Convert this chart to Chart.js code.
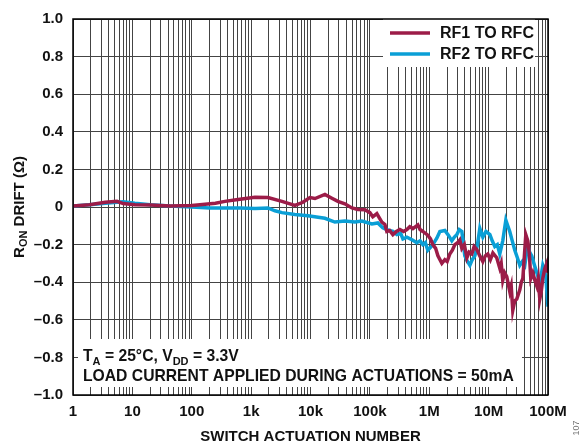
<!DOCTYPE html>
<html lang="en">
<head>
    <meta charset="UTF-8">
    <title>RON drift</title>
    <script src="https://cdn.jsdelivr.net/npm/chart.js"></script>
    <style>
        body { margin: 0; background: #fff; }
    </style>
</head>
<body>

<canvas id="chart" width="584" height="448"></canvas>

<script>
    // x tick labels (decades)
    var xTickValues = [1, 10, 100, 1e3, 1e4, 1e5, 1e6, 1e7, 1e8]
    var xTickLabels = ['1', '10', '100', '1k', '10k', '100k', '1M', '10M', '100M']

    // RF1 TO RFC
    var rf1N = [1, 1.9, 3.5, 5.5, 7, 11, 20, 43, 100, 137, 250, 362, 600, 1160, 1920, 3300, 5460, 7450, 9770, 11900,
        17500, 22900, 28900, 37900, 49800, 62800, 82400, 100000, 112000, 131000, 159000, 179000, 193000, 215000,
        244000, 280000, 320000, 370000, 420000, 470000, 530000, 643000, 700000, 780000, 946000, 1.05e6, 1.15e6,
        1.28e6, 1.40e6, 1.63e6, 1.83e6, 2.0e6, 2.22e6, 2.45e6, 2.70e6, 3.0e6, 3.27e6, 3.54e6, 3.9e6, 4.30e6,
        4.7e6, 5.21e6, 5.7e6, 6.33e6, 7.11e6, 7.99e6, 8.8e6, 9.70e6, 10.7e6, 11.8e6, 13.7e6, 15.4e6, 16.3e6,
        17.3e6, 18.6e6, 20.2e6, 22.7e6, 24e6, 25.5e6, 27.5e6, 29.8e6, 33.5e6, 35.5e6, 37.7e6, 42.3e6, 45.7e6,
        48.5e6, 51.3e6, 55.5e6, 60e6, 64.7e6, 68.5e6, 72.7e6, 77e6, 81.7e6, 88e6, 95.4e6, 100e6]
    var rf1Drift = [0.005, 0.012, 0.025, 0.03, 0.018, 0.012, 0.01, 0.005, 0.008, 0.012, 0.02, 0.03, 0.04, 0.052, 0.05,
        0.03, 0.009, 0.025, 0.05, 0.045, 0.067, 0.047, 0.03, 0.017, -0.005, -0.013, -0.015, -0.03, -0.052, -0.035,
        -0.08, -0.093, -0.13, -0.125, -0.147, -0.13, -0.12, -0.13, -0.12, -0.105, -0.115, -0.095, -0.12, -0.13,
        -0.15, -0.17, -0.2, -0.22, -0.26, -0.3, -0.28, -0.29, -0.25, -0.23, -0.2, -0.19, -0.175, -0.22, -0.2,
        -0.27, -0.24, -0.25, -0.21, -0.226, -0.26, -0.29, -0.26, -0.25, -0.28, -0.245, -0.27, -0.325, -0.3,
        -0.39, -0.35, -0.37, -0.45, -0.42, -0.55, -0.5, -0.49, -0.44, -0.4, -0.38, -0.147, -0.18, -0.25, -0.38,
        -0.35, -0.39, -0.42, -0.38, -0.49, -0.45, -0.38, -0.33, -0.3, -0.35]

    // RF2 TO RFC
    var rf2N = [1, 1.9, 3.5, 5.5, 7, 11, 20, 43, 100, 200, 362, 650, 1160, 1920, 2520, 3300, 5460, 9040, 17500,
        25700, 37900, 55900, 73300, 108000, 136000, 165000, 193000, 244000, 285000, 330000, 360000, 420000,
        520000, 618000, 700000, 780000, 860000, 946000, 1.05e6, 1.15e6, 1.34e6, 1.51e6, 1.83e6, 2.1e6, 2.40e6,
        2.65e6, 2.91e6, 3.2e6, 3.54e6, 3.97e6, 4.4e6, 4.83e6, 5.3e6, 5.86e6, 6.5e6, 7.11e6, 7.99e6, 9e6, 10.5e6,
        11.5e6, 12.7e6, 14e6, 15.4e6, 17.3e6, 19.5e6, 21e6, 22.7e6, 25e6, 27.6e6, 30.5e6, 33.5e6, 37e6, 40.7e6,
        45.7e6, 49e6, 53.3e6, 58e6, 64.7e6, 72.7e6, 77e6, 81.7e6, 86e6, 91.8e6, 96e6, 100e6]
    var rf2Drift = [0.005, 0.012, 0.02, 0.025, 0.028, 0.02, 0.012, 0.005, 0, -0.005, -0.005, -0.005, -0.008, -0.005,
        -0.02, -0.03, -0.04, -0.047, -0.06, -0.08, -0.075, -0.08, -0.075, -0.09, -0.085, -0.11, -0.12, -0.13,
        -0.147, -0.14, -0.17, -0.16, -0.175, -0.19, -0.18, -0.2, -0.19, -0.23, -0.215, -0.2, -0.166, -0.13, -0.125,
        -0.15, -0.18, -0.16, -0.147, -0.12, -0.13, -0.26, -0.29, -0.31, -0.28, -0.26, -0.2, -0.114, -0.16, -0.13,
        -0.147, -0.18, -0.21, -0.2, -0.25, -0.18, -0.07, -0.1, -0.13, -0.18, -0.23, -0.27, -0.31, -0.29, -0.31,
        -0.2, -0.24, -0.26, -0.3, -0.35, -0.4, -0.36, -0.31, -0.33, -0.37, -0.45, -0.53]

    var red = '#9c1c48'
    var blue = '#0a9fd6'
    var font = "'Liberation Sans', Arial, sans-serif"

    function pts(xs, ys) {
        return xs.map((x, i) => ({x: x, y: ys[i]}))
    }

    function drawSub(ctx, parts, x, y) {
        // parts: [text, isSub]
        parts.forEach(p => {
            if (p[1]) {
                ctx.font = 'bold 11px ' + font
                ctx.fillText(p[0], x, y + 4)
            } else {
                ctx.font = 'bold 15.7px ' + font
                ctx.fillText(p[0], x, y)
            }
            x += ctx.measureText(p[0]).width
        })
    }

    var overlay = {
        id: 'overlay',
        beforeDatasetsDraw(chart) {
            var ctx = chart.ctx
            ctx.save()
            ctx.fillStyle = '#fff'
            ctx.fillRect(383, 18, 152, 49)
            ctx.fillRect(78, 339, 444, 48)
            ctx.restore()
        },
        afterDraw(chart) {
            var ctx = chart.ctx
            var a = chart.chartArea
            ctx.save()
            ctx.fillStyle = '#111'
            ctx.textBaseline = 'middle'

            // legend
            chart.data.datasets.forEach((ds, i) => {
                var y = 33 + i * 21
                ctx.strokeStyle = ds.borderColor
                ctx.lineWidth = 3.5
                ctx.beginPath()
                ctx.moveTo(390, y)
                ctx.lineTo(430, y)
                ctx.stroke()
                ctx.font = 'bold 16px ' + font
                ctx.textAlign = 'left'
                ctx.fillText(ds.label, 440, y + 1)
            })

            // annotations
            ctx.textBaseline = 'alphabetic'
            drawSub(ctx, [['T', 0], ['A', 1], [' = 25°C, V', 0], ['DD', 1], [' = 3.3V', 0]], 83, 361)
            ctx.font = 'bold 15.7px ' + font
            ctx.fillText('LOAD CURRENT APPLIED DURING ACTUATIONS = 50mA', 83, 381)

            // x title
            ctx.textAlign = 'center'
            ctx.textBaseline = 'middle'
            ctx.font = 'bold 15px ' + font
            ctx.fillText('SWITCH ACTUATION NUMBER', (a.left + a.right) / 2, 437)

            // y title
            ctx.save()
            ctx.translate(20, (a.top + a.bottom) / 2)
            ctx.rotate(-Math.PI / 2)
            ctx.textAlign = 'left'
            var t1 = 'R', t2 = 'ON', t3 = ' DRIFT (Ω)'
            ctx.font = 'bold 15px ' + font
            var w1 = ctx.measureText(t1).width, w3 = ctx.measureText(t3).width
            ctx.font = 'bold 11px ' + font
            var w2 = ctx.measureText(t2).width
            var x0 = -(w1 + w2 + w3) / 2
            ctx.font = 'bold 15px ' + font
            ctx.fillText(t1, x0, 0)
            ctx.font = 'bold 11px ' + font
            ctx.fillText(t2, x0 + w1, 4)
            ctx.font = 'bold 15px ' + font
            ctx.fillText(t3, x0 + w1 + w2, 0)
            ctx.restore()

            // figure number
            ctx.save()
            ctx.translate(577, 428)
            ctx.rotate(-Math.PI / 2)
            ctx.fillStyle = '#777'
            ctx.font = '9px ' + font
            ctx.textAlign = 'center'
            ctx.fillText('107', 0, 0)
            ctx.restore()

            // frame
            ctx.strokeStyle = '#000'
            ctx.lineWidth = 1.5
            ctx.strokeRect(a.left, a.top, a.right - a.left, a.bottom - a.top)
            ctx.restore()
        }
    }

    var canvas = document.getElementById('chart')
    var chart = new Chart(canvas, {
        type: 'line',
        data: {
            datasets: [{
                label: 'RF1 TO RFC',
                data: pts(rf1N, rf1Drift),
                borderColor: red,
                borderWidth: 3.5,
                pointRadius: 0,
                tension: 0
            }, {
                label: 'RF2 TO RFC',
                data: pts(rf2N, rf2Drift),
                borderColor: blue,
                borderWidth: 3.5,
                pointRadius: 0,
                tension: 0
            }]
        },
        options: {
            responsive: false,
            animation: false,
            layout: {padding: {left: 0, right: 36, top: 14, bottom: 0}},
            plugins: {legend: {display: false}, tooltip: {enabled: false}},
            scales: {
                x: {
                    type: 'logarithmic',
                    min: 1,
                    max: 1e8,
                    afterFit: s => { s.height = 53 },
                    afterBuildTicks: s => {
                        var t = []
                        for (var k = 0; k < 8; k++) {
                            for (var m = 1; m < 10; m++) t.push({value: m * Math.pow(10, k)})
                        }
                        t.push({value: 1e8})
                        s.ticks = t
                    },
                    grid: {color: '#444', lineWidth: 1, drawTicks: false},
                    border: {display: false},
                    ticks: {
                        autoSkip: false,
                        maxRotation: 0,
                        padding: 8,
                        color: '#111',
                        font: {family: font, size: 15, weight: 'bold'},
                        callback: v => {
                            var i = xTickValues.indexOf(v)
                            return i >= 0 ? xTickLabels[i] : ''
                        }
                    }
                },
                y: {
                    min: -1,
                    max: 1,
                    afterFit: s => { s.width = 73 },
                    grid: {color: '#444', lineWidth: 1, drawTicks: false},
                    border: {display: false},
                    ticks: {
                        stepSize: 0.2,
                        padding: 10,
                        color: '#111',
                        font: {family: font, size: 15, weight: 'bold'},
                        callback: v => {
                            if (Math.abs(v) < 1e-9) return '0'
                            return v.toFixed(1).replace('-', '\u2013')
                        }
                    }
                }
            }
        },
        plugins: [overlay]
    })
</script>

</body>
</html>
